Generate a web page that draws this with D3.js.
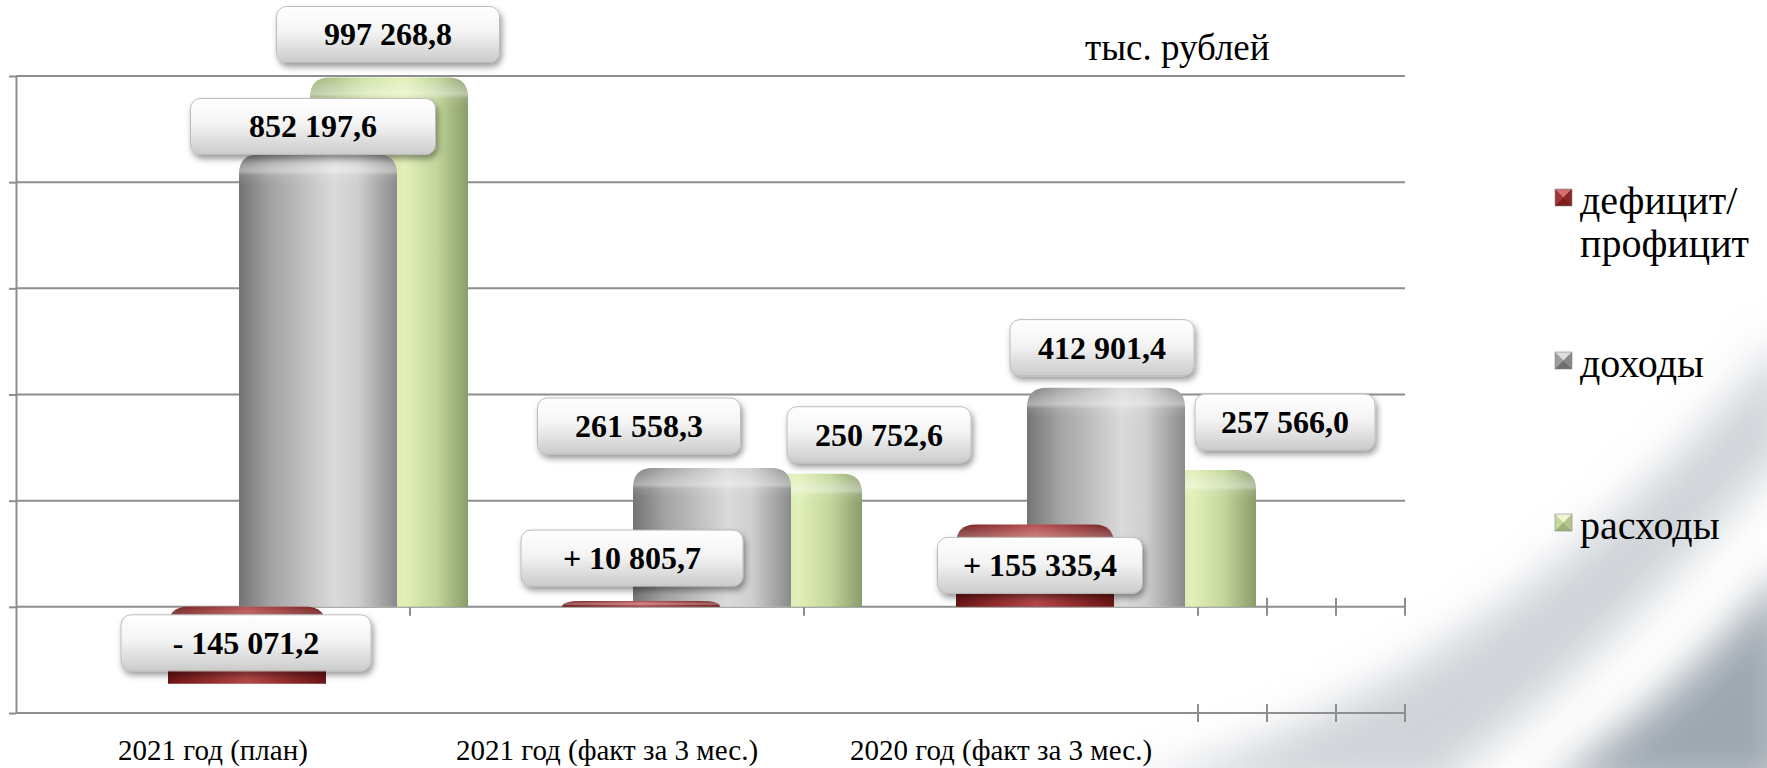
<!DOCTYPE html>
<html>
<head>
<meta charset="utf-8">
<script src="https://cdn.jsdelivr.net/npm/d3@7/dist/d3.min.js"></script>
<style>
  body { margin: 0; background: #fff; overflow: hidden; }
</style>
</head>
<body>
<div id="chart"></div>
<script>
// values, тыс. рублей
var categories = ["2021 год (план)", "2021 год (факт за 3 мес.)", "2020 год (факт за 3 мес.)"];
var deficit = [-145071.2, 10805.7, 155335.4];
var income = [852197.6, 261558.3, 412901.4];
var expense = [997268.8, 250752.6, 257566.0];
var seriesData = [deficit, income, expense];
var legendLines = [["дефицит/", "профицит"], ["доходы"], ["расходы"]];
var yTicks = [-200000, 0, 200000, 400000, 600000, 800000, 1000000];
var unitLabel = "тыс. рублей";

// label placement (hand placed in the original): dx, dy from bar end, box width
var labelDx = [[-1, -9, 5], [-5, -73, -4], [-1, 96, 108]];
var labelDy = [[-41, -43, 41], [-28, -42, -40], [-43, -39, -48]];
var labelW = [[250, 222, 205], [245, 203, 184], [223, 184, 180]];

var W = 1767, H = 768;
var lineCol = "#8e8e8e";
var FONT = "'Liberation Serif'";

var svg = d3.select("#chart").append("svg")
  .attr("width", W)
  .attr("height", H);
var defs = svg.append("defs");

// ---------- gradients / filters ----------
function hGrad(id, stops) {
  var g = defs.append("linearGradient").attr("id", id)
    .attr("x1", "0").attr("x2", "1").attr("y1", "0").attr("y2", "0");
  stops.forEach(function (s) {
    g.append("stop").attr("offset", s[0]).attr("stop-color", s[1]);
  });
}
hGrad("gRed", [[0, "#6a1414"], [0.25, "#922c2c"], [0.5, "#b44848"], [0.75, "#922c2c"], [1, "#6a1414"]]);
hGrad("gGray", [[0, "#747474"], [0.2, "#a2a2a2"], [0.6, "#dadada"], [0.75, "#cfcfcf"], [1, "#8a8a8a"]]);
hGrad("gGreen", [[0, "#9aad78"], [0.35, "#cfe2a3"], [0.6, "#e2f0b8"], [0.8, "#c2d59a"], [1, "#8a9c6a"]]);
var barFills = ["url(#gRed)", "url(#gGray)", "url(#gGreen)"];

var cap = defs.append("linearGradient").attr("id", "cap")
  .attr("x1", "0").attr("x2", "0").attr("y1", "0").attr("y2", "1");
cap.append("stop").attr("offset", 0).attr("stop-color", "#fff").attr("stop-opacity", 0.05);
cap.append("stop").attr("offset", 0.55).attr("stop-color", "#fff").attr("stop-opacity", 0.4);
cap.append("stop").attr("offset", 0.7).attr("stop-color", "#fff").attr("stop-opacity", 0.1);
cap.append("stop").attr("offset", 1).attr("stop-color", "#fff").attr("stop-opacity", 0);

var boxG = defs.append("linearGradient").attr("id", "box")
  .attr("x1", "0").attr("x2", "0").attr("y1", "0").attr("y2", "1");
boxG.append("stop").attr("offset", 0).attr("stop-color", "#ffffff");
boxG.append("stop").attr("offset", 0.45).attr("stop-color", "#f4f4f4");
boxG.append("stop").attr("offset", 1).attr("stop-color", "#cbcbcb");

var shadow = defs.append("filter").attr("id", "shadow")
  .attr("x", "-20%").attr("y", "-30%").attr("width", "140%").attr("height", "170%");
shadow.append("feDropShadow").attr("dx", 2).attr("dy", 4)
  .attr("stdDeviation", 3).attr("flood-color", "#000").attr("flood-opacity", 0.4);

var blur = defs.append("filter").attr("id", "blur")
  .attr("x", "-50%").attr("y", "-50%").attr("width", "200%").attr("height", "200%");
blur.append("feGaussianBlur").attr("stdDeviation", 22);

// ---------- background swoosh ----------
var bg = svg.append("g").attr("filter", "url(#blur)");
bg.append("path")
  .attr("d", "M1120,790 C1380,720 1600,560 1790,330 L1790,470 C1660,620 1520,740 1440,790 Z")
  .attr("fill", "#c8cdd2").attr("opacity", 0.85);
bg.append("path")
  .attr("d", "M1540,790 C1640,720 1720,650 1790,560 L1790,790 Z")
  .attr("fill", "#9ea7b0");
bg.append("path")
  .attr("d", "M1460,790 C1580,700 1680,600 1790,470")
  .attr("fill", "none").attr("stroke", "#fff").attr("stroke-width", 30);

// ---------- scales ----------
var y = d3.scaleLinear().domain([-200000, 1000000]).range([713, 76]);
var x0 = d3.scaleBand().domain(categories).range([16, 1198]);
var x1 = d3.scalePoint().domain([0, 1, 2]).range([152, 294]);
var floorX = d3.scaleLinear().domain([0, 3]).range([1198, 1405]);
var barW = 158;
var plotRight = floorX(3);

// ---------- grid & axes ----------
svg.append("g").selectAll("line")
  .data(yTicks)
  .join("line")
  .attr("x1", 16).attr("x2", plotRight)
  .attr("y1", function (d) { return y(d); })
  .attr("y2", function (d) { return y(d); })
  .attr("stroke", lineCol).attr("stroke-width", 2);

svg.append("g")
  .attr("transform", "translate(16,0)")
  .call(d3.axisLeft(y).tickValues(yTicks).tickSize(7).tickSizeOuter(0).tickFormat(""))
  .call(function (g) {
    g.selectAll("path, line").attr("stroke", lineCol).attr("stroke-width", 2);
  });

var floorTicks = floorX.ticks(3).map(function (d) { return floorX(d); });
var zeroTicks = categories.slice(1).map(function (c) { return x0(c); })
  .concat(floorTicks);
svg.append("g").selectAll("line")
  .data(zeroTicks)
  .join("line")
  .attr("x1", function (d) { return d; }).attr("x2", function (d) { return d; })
  .attr("y1", y(0) - 9).attr("y2", y(0) + 9)
  .attr("stroke", lineCol).attr("stroke-width", 2);
svg.append("g").selectAll("line")
  .data(floorTicks)
  .join("line")
  .attr("x1", function (d) { return d; }).attr("x2", function (d) { return d; })
  .attr("y1", y(-200000) - 9).attr("y2", y(-200000) + 9)
  .attr("stroke", lineCol).attr("stroke-width", 2);

// category labels
svg.append("g").selectAll("text")
  .data(categories)
  .join("text")
  .attr("x", function (d) { return x0(d) + x0.bandwidth() / 2; })
  .attr("y", 760)
  .attr("text-anchor", "middle")
  .style("font-family", FONT)
  .style("font-size", "29px")
  .attr("fill", "#000")
  .text(function (d) { return d; });

svg.append("text")
  .attr("x", 1085).attr("y", 60)
  .style("font-family", FONT)
  .style("font-size", "37px")
  .text(unitLabel);

// ---------- cylinders ----------
function cylPath(x, top, bot, w) {
  var r = Math.min(20, bot - top), rx = 20;
  return "M" + x + "," + bot + "V" + (top + r) +
    "Q" + x + "," + top + " " + (x + rx) + "," + top +
    "H" + (x + w - rx) +
    "Q" + (x + w) + "," + top + " " + (x + w) + "," + (top + r) +
    "V" + bot + "Z";
}

var bars = svg.append("g");
[2, 1, 0].forEach(function (s) {
  seriesData[s].forEach(function (v, i) {
    var bx = x0(categories[i]) + x1(s);
    var top = Math.min(y(v), y(0)), bot = Math.max(y(v), y(0));
    bars.append("path")
      .attr("d", cylPath(bx, top, bot, barW))
      .attr("fill", barFills[s]);
    bars.append("path")
      .attr("d", cylPath(bx, top, Math.min(bot, top + 30), barW))
      .attr("fill", "url(#cap)");
  });
});

// ---------- value labels ----------
var ru = d3.formatLocale({ decimal: ",", thousands: " ", grouping: [3], currency: ["", ""] });
var fmt = ru.format(",.1f");
function labelText(s, v) {
  if (s === 0) return (v < 0 ? "- " : "+ ") + fmt(Math.abs(v));
  return fmt(v);
}

var labels = svg.append("g");
seriesData.forEach(function (vals, s) {
  vals.forEach(function (v, i) {
    var cx = x0(categories[i]) + x1(s) + barW / 2 + labelDx[s][i];
    var cy = y(v) + labelDy[s][i];
    var w = labelW[s][i], h = 56;
    var g = labels.append("g");
    g.append("rect")
      .attr("x", cx - w / 2).attr("y", cy - h / 2)
      .attr("width", w).attr("height", h)
      .attr("rx", 10)
      .attr("fill", "url(#box)")
      .attr("stroke", "#bcbcbc").attr("stroke-width", 1)
      .attr("filter", "url(#shadow)");
    g.append("text")
      .attr("x", cx).attr("y", cy + 11)
      .attr("text-anchor", "middle")
      .style("font-family", FONT)
      .style("font-size", "32px")
      .style("font-weight", "bold")
      .text(labelText(s, v));
  });
});

// ---------- legend ----------
var legCols = [
  { base: "#a13434", top: "#d07070", bot: "#7e1c1c", side: "#8a2626" },
  { base: "#9c9c9c", top: "#dcdcdc", bot: "#6e6e6e", side: "#888" },
  { base: "#c6d79f", top: "#eef6d2", bot: "#9fb07c", side: "#b3c58c" }
];
var legY = [214, 377, 539];
var legend = svg.append("g");
legendLines.forEach(function (lines, k) {
  var sx = 1555, sy = legY[k] - 25, sz = 17, c = legCols[k];
  var g = legend.append("g");
  g.append("rect").attr("x", sx).attr("y", sy).attr("width", sz).attr("height", sz).attr("fill", c.base);
  var m = [sx + sz / 2, sy + sz / 2];
  g.append("path").attr("d", "M" + sx + "," + sy + "L" + (sx + sz) + "," + sy + "L" + m[0] + "," + m[1] + "Z").attr("fill", c.top);
  g.append("path").attr("d", "M" + sx + "," + (sy + sz) + "L" + (sx + sz) + "," + (sy + sz) + "L" + m[0] + "," + m[1] + "Z").attr("fill", c.bot);
  g.append("path").attr("d", "M" + (sx + sz) + "," + sy + "L" + (sx + sz) + "," + (sy + sz) + "L" + m[0] + "," + m[1] + "Z").attr("fill", c.side);
  g.append("rect").attr("x", sx).attr("y", sy).attr("width", sz).attr("height", sz)
    .attr("fill", "none").attr("stroke", "#888").attr("stroke-width", 0.6);
  lines.forEach(function (t, j) {
    g.append("text")
      .attr("x", 1580).attr("y", legY[k] + j * 43)
      .style("font-family", FONT)
      .style("font-size", "40px")
      .text(t);
  });
});
</script>
</body>
</html>
